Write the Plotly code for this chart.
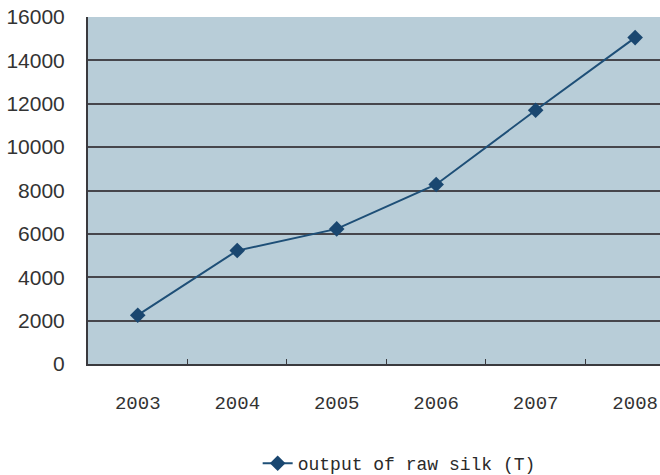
import plotly.graph_objects as go

# Raw silk output by year (tonnes)
years = ["2003", "2004", "2005", "2006", "2007", "2008"]
output_t = [2250, 5230, 6230, 8280, 11700, 15050]
y_ticks = [0, 2000, 4000, 6000, 8000, 10000, 12000, 14000, 16000]
series_name = "output of raw silk (T)"

fig = go.Figure()
fig.add_trace(go.Scatter(
    x=years, y=output_t, name=series_name, mode="lines+markers",
    line=dict(color="#1e4f77", width=2),
    marker=dict(symbol="diamond", size=12, color="#1a4770"),
    showlegend=True,
))

fig.update_layout(
    width=660, height=475,
    margin=dict(l=88, r=0, t=17, b=111, autoexpand=False),
    paper_bgcolor="white",
    plot_bgcolor="#b8cdd8",
    showlegend=True,
    legend=dict(
        orientation="h", x=0.544, xanchor="center",
        yref="container", y=0.024, yanchor="middle",
        font=dict(family="Liberation Mono", size=18, color="#2a2a2a"),
        bgcolor="rgba(0,0,0,0)",
    ),
    xaxis=dict(
        type="category", range=[-0.5, 5.25],
        showline=True, linecolor="#3a3a3e", linewidth=2,
        ticks="inside", ticklen=5, tickcolor="#3a3a3e", tickson="boundaries",
        showgrid=False,
        ticklabelstandoff=20,
        tickfont=dict(family="Liberation Mono", size=19, color="#333333"),
    ),
    yaxis=dict(
        range=[0, 16000], tickmode="array", tickvals=y_ticks,
        ticktext=[str(v) for v in y_ticks],
        showline=True, linecolor="#3a3a3e", linewidth=2,
        showgrid=True, gridcolor="#46464c", gridwidth=1.5,
        zeroline=False, ticks="",
        ticklabelstandoff=17,
        tickfont=dict(family="Liberation Sans", size=21, color="#333333"),
    ),
)

fig.write_html("out.html")
